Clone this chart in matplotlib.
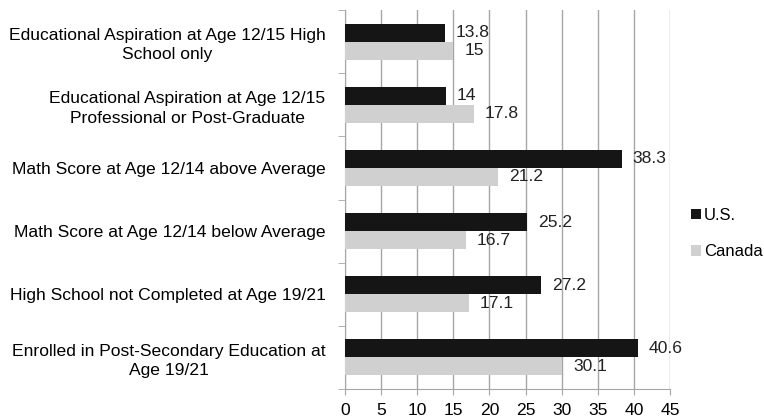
import numpy as np
import matplotlib.pyplot as plt

plt.rcParams['font.family'] = ['Liberation Sans', 'DejaVu Sans']

categories = [
    "Educational Aspiration at Age 12/15 High\nSchool only",
    "Educational Aspiration at Age 12/15\nProfessional or Post-Graduate",
    "Math Score at Age 12/14 above Average",
    "Math Score at Age 12/14 below Average",
    "High School not Completed at Age 19/21",
    "Enrolled in Post-Secondary Education at\nAge 19/21",
]
us = [13.8, 14, 38.3, 25.2, 27.2, 40.6]
canada = [15, 17.8, 21.2, 16.7, 17.1, 30.1]
xticks = list(range(0, 50, 5))

fs = 12.6
fig = plt.figure(figsize=(7.64, 4.2), dpi=100)
ax = fig.add_axes([0.4516, 0.0738, 0.8770 - 0.4516, 0.976 - 0.0738])

y = np.arange(len(categories))
h = 0.285
grey_line = '#a6a6a6'

ax.barh(y - h / 2, us, height=h, color='#151515', label='U.S.', zorder=3)
ax.barh(y + h / 2, canada, height=h, color='#d0d0d0', label='Canada', zorder=3)

for yi, v in zip(y, us):
    ax.text(v + 1.5, yi - h / 2, f"{v:g}", va='center', ha='left', fontsize=fs, color='#222222', zorder=4)
for yi, v in zip(y, canada):
    ax.text(v + 1.5, yi + h / 2, f"{v:g}", va='center', ha='left', fontsize=fs, color='#222222', zorder=4)

ax.set_ylim(len(categories) - 0.5, -0.5)
ax.set_xlim(0, 45)
ax.set_yticks(y)
ax.set_yticklabels(categories, fontsize=fs, multialignment='center', linespacing=1.35)
ax.set_yticks(np.arange(len(categories) + 1) - 0.5, minor=True)
ax.tick_params(axis='y', which='major', length=0, pad=14)
ax.tick_params(axis='y', which='minor', length=5, color=grey_line, direction='out')

ax.set_xticks(xticks)
ax.tick_params(axis='x', labelsize=fs, length=4, color=grey_line, pad=6)
ax.grid(axis='x', color=grey_line, linewidth=1, zorder=0)

for s in ['top', 'right']:
    ax.spines[s].set_visible(False)
for s in ['left', 'bottom']:
    ax.spines[s].set_color(grey_line)

fig.legend(loc='center left', bbox_to_anchor=(0.904, 0.444), frameon=False,
           fontsize=12, handlelength=0.6, handleheight=0.6, handletextpad=0.2,
           labelspacing=1.3, borderpad=0, borderaxespad=0)

fig.savefig('out.png', dpi=100)
